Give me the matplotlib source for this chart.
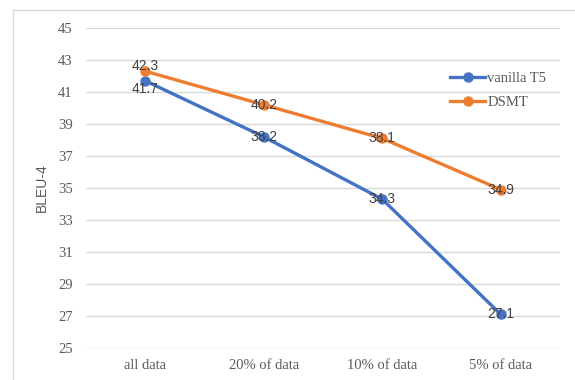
import matplotlib.pyplot as plt
from matplotlib.lines import Line2D

categories = ['all data', '20% of data', '10% of data', '5% of data']
vanilla_t5 = [41.7, 38.2, 34.3, 27.1]
dsmt = [42.3, 40.2, 38.1, 34.9]
yticks = [25, 27, 29, 31, 33, 35, 37, 39, 41, 43, 45]

blue = '#4472C4'
orange = '#ED7D31'
grid_c = '#D9D9D9'
text_c = '#595959'

fig = plt.figure(figsize=(5.75, 3.8), dpi=100)
ax = fig.add_axes([86 / 575, 1 - 348 / 380, 474 / 575, 320 / 380])

# chart border (cropped on right/bottom in the reference)
fig.add_artist(Line2D([13 / 575, 13 / 575], [0, 1 - 10 / 380], transform=fig.transFigure, color=grid_c, lw=1))
fig.add_artist(Line2D([13 / 575, 1], [1 - 10 / 380, 1 - 10 / 380], transform=fig.transFigure, color=grid_c, lw=1))

x = list(range(len(categories)))
ax.plot(x, vanilla_t5, color=blue, lw=2.4, marker='o', ms=6.5, label='vanilla T5', zorder=3)
ax.plot(x, dsmt, color=orange, lw=2.4, marker='o', ms=6.5, label='DSMT', zorder=3)

# data labels, mostly centred on the markers like Excel does
blue_off = [-6, 0, 0, 0]
orange_off = [4, 0, 0, 0]
for xi, v, dy in zip(x, vanilla_t5, blue_off):
    ax.annotate(f'{v}', (xi, v), xytext=(0, dy), textcoords='offset points',
                ha='center', va='center', fontsize=10, family='Liberation Sans', color='#404040', zorder=4)
for xi, v, dy in zip(x, dsmt, orange_off):
    ax.annotate(f'{v}', (xi, v), xytext=(0, dy), textcoords='offset points',
                ha='center', va='center', fontsize=10, family='Liberation Sans', color='#404040', zorder=4)

ax.set_xlim(-0.5, 3.5)
ax.set_ylim(25, 45)
ax.set_yticks(yticks)
ax.set_xticks(x)
ax.set_xticklabels(categories)
for lab in ax.get_xticklabels() + ax.get_yticklabels():
    lab.set_family('Liberation Serif')
    lab.set_fontsize(10.5)
    lab.set_color(text_c)
ax.tick_params(axis='both', length=0)
ax.tick_params(axis='y', pad=9.5)
ax.tick_params(axis='x', pad=8)

ax.grid(axis='y', color=grid_c, lw=1)
ax.set_axisbelow(True)
for s in ax.spines.values():
    s.set_visible(False)

ax.set_ylabel('BLEU-4', family='Liberation Sans', fontsize=10, color=text_c)
ax.yaxis.set_label_coords(-0.078, 0.5)

leg = ax.legend(loc='upper left', bbox_to_anchor=(450 / 575, 1 - 72 / 380),
                bbox_transform=fig.transFigure, frameon=False, borderpad=0,
                borderaxespad=0, handlelength=2.4, handletextpad=0.15,
                labelspacing=0.75, prop={'family': 'Liberation Serif', 'size': 10.5})
for t in leg.get_texts():
    t.set_color(text_c)

fig.savefig('out.png', dpi=100)
